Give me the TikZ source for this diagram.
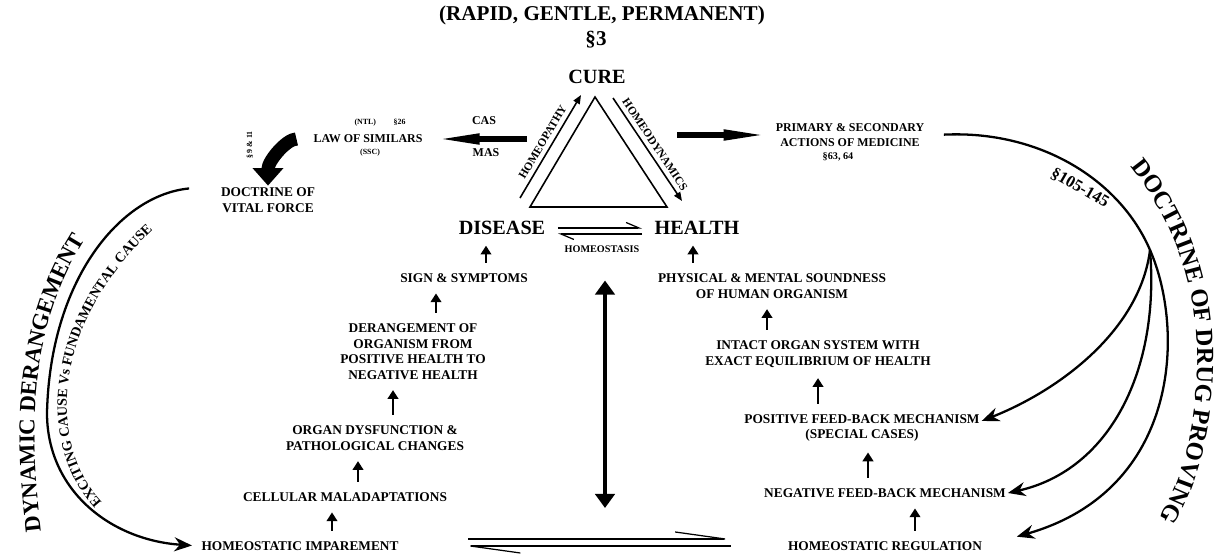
\documentclass[tikz,border=0pt]{standalone}
\usepackage{fontspec}
\setmainfont{Liberation Serif}
\usetikzlibrary{arrows.meta, decorations.text}

\begin{document}
\begin{tikzpicture}[x=0.02cm, y=0.02cm,
    head/.style={font=\bfseries\fontsize{12}{14}\selectfont, inner sep=1pt},
    big/.style={font=\bfseries\fontsize{11.5}{13}\selectfont, inner sep=1pt},
    txt/.style={font=\bfseries\fontsize{7.6}{8.8}\selectfont, align=center, inner sep=1pt},
    small/.style={font=\bfseries\fontsize{6.8}{8.5}\selectfont, align=center, inner sep=1pt},
    lab/.style={font=\bfseries\fontsize{6.5}{7}\selectfont, inner sep=2.5pt},
    mini/.style={font=\bfseries\fontsize{5.8}{7}\selectfont, inner sep=1pt},
    tiny/.style={font=\bfseries\fontsize{4.5}{5}\selectfont, inner sep=0.5pt},
    up/.style={line width=1.3pt, -{Triangle[length=5pt,width=6pt]}, shorten <=5pt, shorten >=5pt},
    fat/.style={line width=3.2pt, -{Triangle[length=0.9cm,width=5.5pt]}},
    bent/.style={line width=7.5pt, -{Triangle[length=10pt,width=17pt]}},
    side/.style={line width=0.9pt, -{Triangle[length=5pt,width=4pt]}},
    dbl/.style={line width=2.8pt, {Triangle[length=8pt,width=11pt]}-{Triangle[length=8pt,width=11pt]}},
    swoop/.style={line width=1.3pt, -{Stealth[length=10pt,width=8pt]}},
    harp/.style={line width=0.7pt, -{Straight Barb[left,length=0.26cm,width=0.22cm]}},
    longharp/.style={line width=0.7pt, -{Straight Barb[left,length=1cm,width=0.28cm]}},
    along/.style={decorate, decoration={text along path, text align=center, text={#1}}}]

    \useasboundingbox (0,0) rectangle (1220,-557);

    \node[head] (rapid) at (602,-15) {(RAPID, GENTLE, PERMANENT)};
    \node[head] (s3) at (596,-40) {§3};
    \node[big] (cure) at (597,-77) {CURE};
    \node[big] (disease) at (502,-228) {DISEASE};
    \node[big] (health) at (697,-228) {HEALTH};
    \node[mini] (homeostasis) at (602,-249) {HOMEOSTASIS};

    \node[small] (law) at (368,-139) {LAW OF SIMILARS};
    \node[tiny] (ntl) at (380,-123) {(NTL)\hspace{10pt}§26};
    \node[tiny] (ssc) at (370,-153) {(SSC)};
    \node[small] (cas) at (484,-121) {CAS};
    \node[small] (mas) at (486,-153) {MAS};
    \node[small] (primary) at (850,-135.5) {PRIMARY \& SECONDARY\\ACTIONS OF MEDICINE};
    \node[mini] (sec6364) at (838,-157) {§63, 64};
    \node[txt] (vital) at (268,-200) {DOCTRINE OF\\VITAL FORCE};
    \node[tiny, rotate=90] (sec911) at (250,-145) {§ 9 \& 11};

    \node[txt] (sign) at (464,-278) {SIGN \& SYMPTOMS};
    \node[txt] (derange) at (413,-351.5) {DERANGEMENT OF\\ORGANISM FROM\\POSITIVE HEALTH TO\\NEGATIVE HEALTH};
    \node[txt] (organ) at (375,-438) {ORGAN DYSFUNCTION \&\\PATHOLOGICAL CHANGES};
    \node[txt] (cellular) at (345,-497) {CELLULAR MALADAPTATIONS};
    \node[txt] (impair) at (300,-546) {HOMEOSTATIC IMPAREMENT};
    \node[txt] (physical) at (772,-286) {PHYSICAL \& MENTAL SOUNDNESS\\OF HUMAN ORGANISM};
    \node[txt] (intact) at (818,-354) {INTACT ORGAN SYSTEM WITH\\EXACT EQUILIBRIUM OF HEALTH};
    \node[txt] (posfb) at (862,-428) {POSITIVE FEED-BACK MECHANISM\\(SPECIAL CASES)};
    \node[txt] (negfb) at (885,-493) {NEGATIVE FEED-BACK MECHANISM};
    \node[txt] (regulation) at (885,-546) {HOMEOSTATIC REGULATION};
    \node[lab, font=\bfseries\fontsize{9.5}{10}\selectfont, rotate=-30] (sec105) at (1080,-188) {§105-145};

    \coordinate (apex) at (595,-97);
    \coordinate (bl) at (530,-207);
    \coordinate (br) at (667,-207);
    \coordinate (hp1) at (520,-198);
    \coordinate (hp2) at (581,-95);
    \coordinate (hd1) at (613,-98);
    \coordinate (hd2) at (682,-201);
    \coordinate (casfrom) at (527,-139);
    \coordinate (primfrom) at (677,-135);
    \coordinate (vbot) at (605,-508);
    \coordinate (fan) at (1150,-250);

    \draw[line width=0.9pt] (apex) -- (bl) -- (br) -- cycle;
    \path[side]
        (hp1) edge node[lab, sloped, above] {HOMEOPATHY} (hp2)
        (hd1) edge node[lab, sloped, above] {HOMEODYNAMICS} (hd2);

    \draw[fat, shorten >=0.2cm] (casfrom) -- (casfrom -| law.east);
    \draw[fat, shorten >=0.1cm] (primfrom) -- (primfrom -| primary.west);
    \draw[bent, shorten <=0.3cm] (law.west) to[out=180, in=90] (vital.north);

    \draw[harp, shorten <=0.21cm, shorten >=0.21cm] (disease.east) -- (health.west);
    \draw[harp, shorten <=0.21cm, shorten >=0.21cm] ([yshift=-3.4pt]health.west) -- ([yshift=-3.4pt]disease.east);
    \draw[longharp, shorten <=1.35cm, shorten >=1.04cm] ([yshift=4pt]impair.east) -- ([yshift=4pt]impair.east -| regulation.west);
    \draw[longharp, shorten <=1.1cm, shorten >=1.22cm] (impair.east -| regulation.west) -- (impair.east);
    \draw[dbl, shorten <=0.52cm] (homeostasis.south -| vbot) -- (vbot);

    \path[up]
        (sign.north -| 486,0) edge (disease.south -| 486,0)
        (derange.north -| 436,0) edge (sign.south -| 436,0)
        (organ.north -| 393,0) edge (derange.south -| 393,0)
        (cellular.north -| 358,0) edge (organ.south -| 358,0)
        (impair.north -| 332,0) edge (cellular.south -| 332,0)
        (physical.north -| 693,0) edge (health.south -| 693,0)
        (intact.north -| 767,0) edge (physical.south -| 767,0)
        (posfb.north -| 818,0) edge (intact.south -| 818,0)
        (negfb.north -| 868,0) edge (posfb.south -| 868,0)
        (regulation.north -| 915,0) edge (negfb.south -| 915,0);

    \draw[swoop, shorten <=0.35cm, shorten >=0.68cm] (primary.east) .. controls (1040,-130) and (1120,-180) .. (fan)
        .. controls (1185,-330) and (1180,-490) .. (regulation.east);
    \draw[swoop] (fan) .. controls (1140,-330) and (1060,-390) .. ([yshift=4pt]posfb.east);
    \draw[swoop] (fan) .. controls (1160,-370) and (1110,-470) .. (negfb.east);
    \draw[swoop, shorten <=0.6cm, shorten >=0.15cm] (vital.north west) .. controls (120,-195) and (50,-280) .. (47,-413)
        .. controls (47,-490) and (110,-540) .. (impair.west);

    \path[along={|\bfseries\fontsize{13}{15}\selectfont|DYNAMIC DERANGEMENT}]
        (42,-540) .. controls (30,-440) and (24,-330) .. (90,-232);
    \path[along={|\bfseries\fontsize{8}{9}\selectfont|EXCITING CAUSE Vs FUNDAMENTAL CAUSE}]
        (104,-505) .. controls (50,-450) and (45,-330) .. (155,-228);
    \path[along={|\bfseries\fontsize{14}{16}\selectfont|DOCTRINE OF DRUG PROVING}]
        (1125,-160) .. controls (1185,-230) and (1202,-310) .. (1196,-390)
        .. controls (1191,-450) and (1178,-490) .. (1155,-525);

\end{tikzpicture}
\end{document}
